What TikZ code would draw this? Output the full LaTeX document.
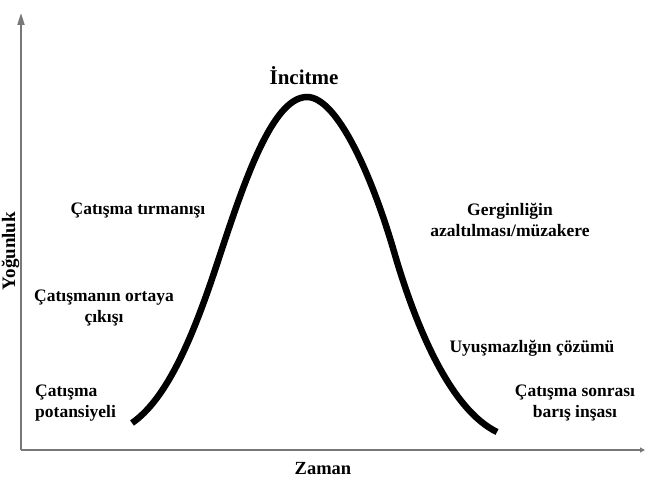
\documentclass[tikz,border=0pt]{standalone}
\usepackage{fontspec}
\setmainfont{Liberation Serif}
\usetikzlibrary{arrows.meta, positioning}
\definecolor{axisgray}{RGB}{120, 120, 120}
\definecolor{curveblack}{RGB}{0, 0, 0}
\tikzset{
  phase/.style={font=\fontsize{17.5}{21}\selectfont\bfseries, align=center, inner sep=0pt, text=black},
  axislabel/.style={font=\fontsize{18.5}{22}\selectfont\bfseries, inner sep=0pt},
  yaxisline/.style={-{Triangle[length=12pt, width=7pt]}, axisgray, line width=2pt},
  xaxisline/.style={-{Triangle[length=5pt, width=5pt]}, axisgray, line width=2.6pt},
  bellcurve/.style={curveblack, line width=6.5pt, line cap=butt}
}
\begin{document}
\begin{tikzpicture}[x=1pt, y=-1pt]
    \useasboundingbox (0, 0) rectangle (650, 487);

    % Axes
    \coordinate (origin) at (21, 450);
    \coordinate (ytop) at (21, 13);
    \coordinate (xend) at (645, 450);
    \draw[yaxisline] (origin) -- (ytop);
    \draw[xaxisline] (origin) -- (xend);

    \node[axislabel, anchor=base] (zaman) at (323, 474) {Zaman};
    \node[axislabel, font=\fontsize{19}{22}\selectfont\bfseries, rotate=90, anchor=base] (yogunluk) at (15, 251) {Yoğunluk};

    % Conflict curve
    \draw[bellcurve] (132, 423) .. controls (165, 400) and (190, 345) .. (215, 270)
      .. controls (240, 195) and (270, 97) .. (307, 97)
      .. controls (337, 97) and (372, 175) .. (395, 255)
      .. controls (418, 333) and (452, 410) .. (497, 432);

    % Phase labels
    \node[phase, font=\fontsize{21}{24}\selectfont\bfseries, anchor=base] (hurt) at (304, 84) {İncitme};
    \node[phase, anchor=base] (escalation) at (138, 214) {Çatışma tırmanışı};
    \node[phase] (emergence) at (104, 308) {Çatışmanın ortaya\\çıkışı};
    \node[phase, anchor=west, align=left] (potential) at (35, 403) {Çatışma\\potansiyeli};
    \node[phase] (deescalation) at (510, 220) {Gerginliğin\\azaltılması/müzakere};
    \node[phase, anchor=base] (resolution) at (532, 352) {Uyuşmazlığın çözümü};
    \node[phase] (peacebuilding) at (575, 403) {Çatışma sonrası\\barış inşası};
\end{tikzpicture}
\end{document}
